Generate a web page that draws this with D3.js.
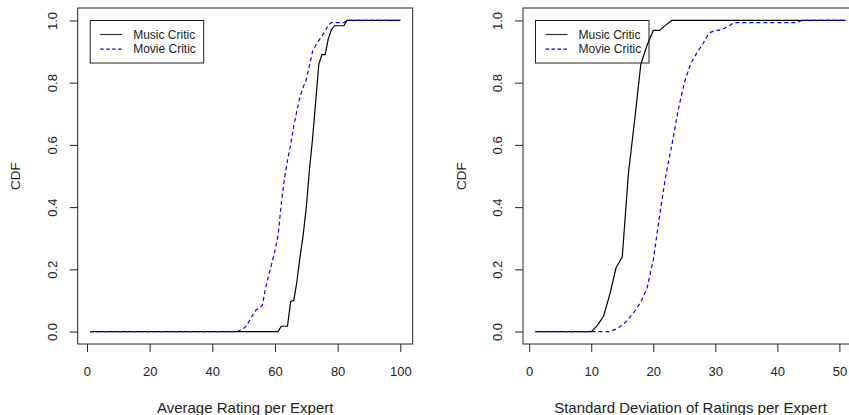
<!DOCTYPE html>
<html>
<head>
<meta charset="utf-8">
<script src="https://cdn.jsdelivr.net/npm/d3@7"></script>
<style>
  body { margin: 0; background: #fff; }
  text { font-family: "Liberation Sans", Arial, sans-serif; fill: #222; }
</style>
</head>
<body>
<svg id="chart" width="849" height="415"></svg>
<script>
// CDF curves, [x, cdf]
const avgMusic = [[1,0],[61,0],[62,0.017],[64,0.017],[65,0.097],[66,0.1],[67,0.16],[68,0.24],[69,0.31],[70,0.4],[71,0.52],[72,0.62],[73,0.74],[74,0.86],[75,0.89],[76,0.89],[77,0.94],[78,0.97],[79,0.983],[82,0.983],[83,1],[100,1]];
const avgMovie = [[1,0],[48,0],[49,0.005],[50,0.01],[51,0.02],[52,0.037],[53,0.055],[54,0.07],[55,0.075],[56,0.085],[57,0.14],[58,0.18],[59,0.22],[60,0.26],[61,0.31],[62,0.41],[63,0.49],[64,0.55],[65,0.6],[66,0.66],[67,0.71],[68,0.755],[69,0.785],[70,0.81],[71,0.855],[72,0.9],[73,0.92],[74,0.935],[75,0.95],[76,0.965],[77,0.985],[78,0.993],[82,0.993],[83,1],[100,1]];
const sdMusic = [[1,0],[10,0],[11,0.02],[12,0.05],[13,0.12],[14,0.205],[15,0.24],[16,0.51],[17,0.68],[18,0.86],[19,0.92],[20,0.968],[21,0.968],[22,0.985],[23,1],[51,1]];
const sdMovie = [[1,0],[13,0],[14,0.008],[15,0.02],[16,0.04],[17,0.065],[18,0.095],[19,0.14],[20,0.23],[21,0.37],[22,0.5],[23,0.6],[24,0.71],[25,0.8],[26,0.86],[27,0.895],[28,0.925],[29,0.96],[30,0.968],[31,0.97],[32,0.98],[33,0.993],[43,0.993],[44,1],[51,1]];

const avgTicks = [0,20,40,60,80,100];
const sdTicks = [0,10,20,30,40,50];
const cdfTicks = [0,0.2,0.4,0.6,0.8,1.0];
const seriesNames = ["Music Critic","Movie Critic"];

const svg = d3.select("#chart");
const boxTop = 8, boxBottom = 344;

// R style 4% padding on each side
function pad(lo, hi) {
  const p = (hi - lo) * 0.04;
  return [lo - p, hi + p];
}

function panel(left, xDomain, xTicks, music, movie, xTitle) {
  const right = left + 335;
  const x = d3.scaleLinear().domain(pad(xDomain[0], xDomain[1])).range([left, right]);
  const y = d3.scaleLinear().domain(pad(0, 1)).range([boxBottom, boxTop]);
  const g = svg.append("g");

  // legend first, the curves run over it
  const lg = g.append("g").attr("transform", `translate(${left + 12.5},20.5)`);
  lg.append("rect").attr("width", 113.5).attr("height", 42.5)
    .attr("fill", "none").attr("stroke", "#222").attr("stroke-width", 1);
  seriesNames.forEach((name, i) => {
    const ly = 14 + i * 14.6;
    lg.append("line")
      .attr("x1", 10).attr("x2", 32).attr("y1", ly).attr("y2", ly)
      .attr("stroke", i === 0 ? "#333" : "#0000ff").attr("stroke-width", 1.2)
      .attr("stroke-dasharray", i === 0 ? null : "3.5,2.5");
    lg.append("text")
      .attr("x", 43).attr("y", ly).attr("dy", "0.35em")
      .style("font-size", "12px")
      .text(name);
  });

  const line = d3.line().x(d => x(d[0])).y(d => y(d[1]));

  g.append("path").datum(music)
    .attr("d", line).attr("fill", "none")
    .attr("stroke", "#000").attr("stroke-width", 1.2);
  g.append("path").datum(movie)
    .attr("d", line).attr("fill", "none")
    .attr("stroke", "#0000ff").attr("stroke-width", 1.2)
    .attr("stroke-dasharray", "4,3");

  // box
  g.append("rect")
    .attr("x", left).attr("y", boxTop)
    .attr("width", right - left).attr("height", boxBottom - boxTop)
    .attr("fill", "none").attr("stroke", "#222").attr("stroke-width", 1);

  // x axis
  const xa = g.append("g")
    .attr("transform", `translate(0,${boxBottom})`)
    .call(d3.axisBottom(x).tickValues(xTicks).tickSize(8).tickFormat(d3.format("d")));
  xa.select(".domain").remove();
  xa.selectAll("line").attr("stroke", "#222");
  xa.selectAll("text").attr("y", 27.5).attr("dy", "0.35em")
    .style("font-size", "13px").attr("fill", "#222");

  // y axis, labels turned like R does
  const ya = g.append("g")
    .attr("transform", `translate(${left},0)`)
    .call(d3.axisLeft(y).tickValues(cdfTicks).tickSize(8).tickFormat(d3.format(".1f")));
  ya.select(".domain").remove();
  ya.selectAll("line").attr("stroke", "#222");
  ya.selectAll("text")
    .attr("transform", "rotate(-90)")
    .attr("x", 0).attr("y", -25.5).attr("dy", "0.35em")
    .attr("text-anchor", "middle")
    .style("font-size", "13px").attr("fill", "#222");

  // titles
  g.append("text")
    .attr("x", (left + right) / 2).attr("y", 407.5)
    .attr("text-anchor", "middle").attr("dy", "0.35em")
    .style("font-size", "15px")
    .text(xTitle);
  g.append("text")
    .attr("transform", `translate(${left - 62},${(boxTop + boxBottom) / 2}) rotate(-90)`)
    .attr("text-anchor", "middle").attr("dy", "0.35em")
    .style("font-size", "13.5px")
    .text("CDF");
}

panel(77.7, [1, 100], avgTicks, avgMusic, avgMovie, "Average Rating per Expert");
panel(523, [1, 51], sdTicks, sdMusic, sdMovie, "Standard Deviation of Ratings per Expert");
</script>
</body>
</html>
